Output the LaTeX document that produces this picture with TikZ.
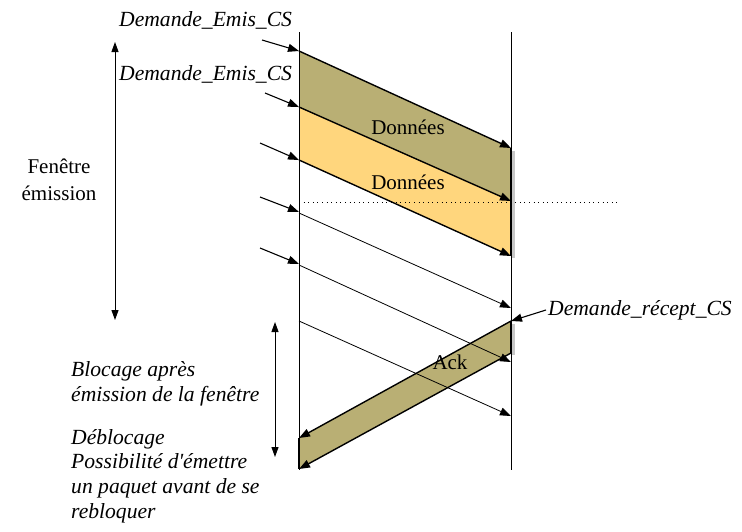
\documentclass[tikz,border=0pt]{standalone}
\usepackage{fontspec}
\setmainfont{Liberation Serif}[Ligatures=TeXOff]
\usetikzlibrary{arrows.meta}
\definecolor{bandolive}{HTML}{B9AF74}
\definecolor{bandyellow}{HTML}{FFD67D}
\begin{document}
\begin{tikzpicture}[x=1pt,y=-1pt,
  tip/.style={-{Triangle[length=11pt,width=8pt]}},
  thinarrow/.style={tip,line width=0.8pt},
  bandedge/.style={tip,line width=1.4pt},
  dblarrow/.style={{Triangle[length=10pt,width=7pt]}-{Triangle[length=10pt,width=7pt]},line width=1pt},
  lbl/.style={font=\fontsize{21}{25}\selectfont, inner sep=0pt},
  ilbl/.style={lbl,font=\fontsize{21.6}{25}\selectfont\itshape},
  shadow/.style={draw=black!22,line width=2.5pt},
]
\useasboundingbox (0,0) rectangle (742,531);

% time lines
\coordinate (LT) at (299,32);
\coordinate (LB) at (299,470);
\coordinate (RT) at (511,32);
\coordinate (RB) at (511,470);

% band corners
\coordinate (a1) at (299,51);
\coordinate (a2) at (299,107);
\coordinate (a3) at (299,160);
\coordinate (b1) at (511,148);
\coordinate (b2) at (511,201);
\coordinate (b3) at (511,256);
\coordinate (k1) at (511,321);
\coordinate (k2) at (511,353);
\coordinate (m1) at (299,438);
\coordinate (m2) at (299,469);

% shadows
\draw[shadow] (513.5,151) -- (513.5,258);
\draw[shadow] (513.5,324) -- (513.5,355);

% bands
\fill[bandolive] (a1) -- (b1) -- (b2) -- (a2) -- cycle;
\fill[bandyellow] (a2) -- (b2) -- (b3) -- (a3) -- cycle;
\fill[bandolive] (k1) -- (k2) -- (m2) -- (m1) -- cycle;

% vertical lines
\draw[line width=0.9pt] (LT) -- (LB);
\draw[line width=0.9pt] (RT) -- (RB);
\draw[line width=1.2pt] (b1) -- (b3);
\draw[line width=1.2pt] (k1) -- (k2);
\draw[line width=1.2pt] (m1) -- (m2);

% dotted line
\coordinate (d1) at (299,202);
\coordinate (d2) at (620,202);
\draw[line width=0.8pt,dash pattern=on 1pt off 3.6pt] (d1) -- (d2);

% band edges
\draw[bandedge] (a1) -- (b1);
\draw[bandedge] (a2) -- (b2);
\draw[bandedge] (a3) -- (b3);

% thin data arrows
\coordinate (t1s) at (299,213);
\coordinate (t1e) at (511,308);
\coordinate (t2s) at (299,265);
\coordinate (t2e) at (511,362);
\coordinate (t3s) at (299,321);
\coordinate (t3e) at (511,416);
\draw[thinarrow] (t1s) -- (t1e);
\draw[thinarrow] (t2s) -- (t2e);
\draw[thinarrow] (t3s) -- (t3e);

% ack edges
\draw[bandedge] (k1) -- (m1);
\draw[bandedge] (k2) -- (m2);

% incoming short arrows
\coordinate (i1) at (262,40);
\coordinate (i2) at (265,93);
\coordinate (i3) at (260,143);
\coordinate (i4) at (260,197);
\coordinate (i5) at (260,248);
\coordinate (e4) at (299,212);
\coordinate (e5) at (299,264);
\draw[thinarrow,line width=1.1pt] (i1) -- (a1);
\draw[thinarrow,line width=1.1pt] (i2) -- (a2);
\draw[thinarrow,line width=1.1pt] (i3) -- (a3);
\draw[thinarrow,line width=1.1pt] (i4) -- (e4);
\draw[thinarrow,line width=1.1pt] (i5) -- (e5);

% receive request arrow
\coordinate (r0) at (546,310);
\draw[thinarrow,line width=1.1pt] (r0) -- (k1);

% double arrows
\coordinate (f1) at (115,42);
\coordinate (f2) at (115,320);
\draw[dblarrow] (f1) -- (f2);
\coordinate (g1) at (275,322);
\coordinate (g2) at (275,457);
\draw[dblarrow] (g1) -- (g2);

% labels
\node[ilbl,anchor=base west] (lab1) at (119,26) {Demande\_Emis\_CS};
\node[ilbl,anchor=base west] (lab2) at (119,80) {Demande\_Emis\_CS};
\node[lbl,anchor=base] (fen1) at (59,173) {Fenêtre};
\node[lbl,anchor=base] (fen2) at (59,200) {émission};
\node[lbl,anchor=base] (don1) at (408,134) {Données};
\node[lbl,anchor=base] (don2) at (408,189) {Données};
\node[lbl,anchor=base] (ack) at (450,369) {Ack};
\node[ilbl,anchor=base west] (rec) at (548,315) {Demande\_récept\_CS};
\node[ilbl,anchor=base west] (bl1) at (71,376) {Blocage après};
\node[ilbl,anchor=base west] (bl2) at (71,401) {émission de la fenêtre};
\node[ilbl,anchor=base west] (db1) at (71,444) {Déblocage};
\node[ilbl,anchor=base west] (db2) at (71,468) {Possibilité d'émettre};
\node[ilbl,anchor=base west] (db3) at (71,493) {un paquet avant de se};
\node[ilbl,anchor=base west] (db4) at (71,518) {rebloquer};
\end{tikzpicture}
\end{document}
